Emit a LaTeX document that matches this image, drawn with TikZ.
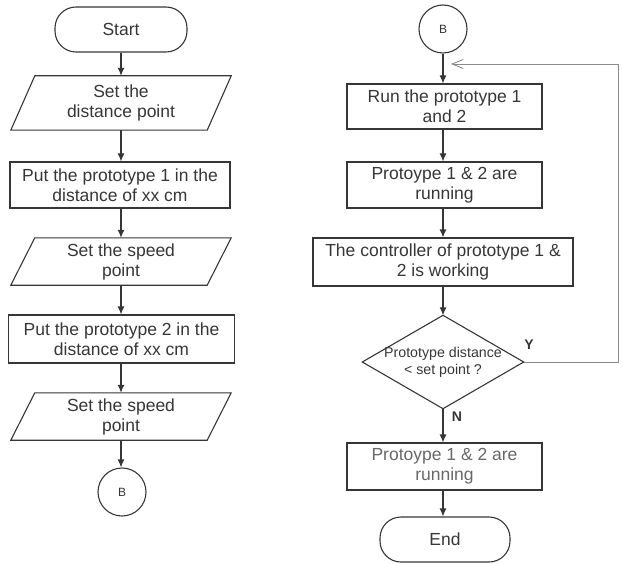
\documentclass[tikz,border=0pt]{standalone}
\usepackage{fontspec}
\setmainfont{Liberation Sans}
\usetikzlibrary{arrows.meta,calc}
\definecolor{ink}{HTML}{363636}
\definecolor{fbgray}{HTML}{8A8A8A}
\begin{document}
\begin{tikzpicture}[x=1pt,y=-1pt,
  base/.style={text=ink,align=center,font=\fontsize{17.5}{20}\selectfont,inner sep=0pt},
  term/.style={base,draw=ink,line width=1.1pt,rounded corners=21pt,minimum width=132pt,minimum height=45pt},
  procbox/.style={base,draw=ink,line width=1.1pt,minimum height=46pt},
  iobox/.style={base,minimum width=196pt},
  conn/.style={base,draw=ink,line width=1.1pt,circle,minimum size=48pt,font=\fontsize{12}{14}\selectfont},
  decbox/.style={base,minimum width=161pt,minimum height=93pt,font=\fontsize{14.2}{17}\selectfont},
  arr/.style={draw=ink,line width=1.1pt,-{Latex[length=8pt,width=7pt]}},
  fb/.style={draw=fbgray,line width=0.9pt,-{Straight Barb[length=11pt,width=9pt]}},
  lbl/.style={text=ink,font=\fontsize{14}{16}\selectfont\bfseries,inner sep=0pt}
]
\useasboundingbox (0,0) rectangle (623,564);
% left column
\node[term] (start) at (121,29.5) {Start};
\node[iobox,minimum height=54pt] (p1) at (121,103) {Set the\\distance point};
\node[procbox,minimum width=220pt] (b1) at (120,185) {Put the prototype 1 in the\\distance of xx cm};
\node[iobox,minimum height=47pt] (p2) at (121,261.5) {Set the speed\\point};
\node[procbox,minimum width=226pt,minimum height=48pt] (b2) at (121.5,339) {Put the prototype 2 in the\\distance of xx cm};
\node[iobox,minimum height=47pt] (p3) at (121,416.5) {Set the speed\\point};
\node[conn] (bl) at (122,492) {B};
\foreach \p in {p1,p2,p3}{
  \draw[ink,line width=1.1pt] ([xshift=12pt]\p.north west) -- ([xshift=12pt]\p.north east)
    -- ([xshift=-12pt]\p.south east) -- ([xshift=-12pt]\p.south west) -- cycle;
}
\draw[arr] (start.south) -- (p1.north);
\draw[arr] (p1.south) -- (b1.north -| p1.south);
\draw[arr] (b1.south -| p1.south) -- (p2.north);
\draw[arr] (p2.south) -- (b2.north -| p2.south);
\draw[arr] (b2.south -| p2.south) -- (p3.north);
\draw[arr] (p3.south) -- (bl.north -| p3.south);
% right column
\node[conn] (br) at (443,29) {B};
\node[procbox,minimum width=195pt,minimum height=45pt] (run) at (444.5,106.5) {Run the prototype 1\\and 2};
\node[procbox,minimum width=195pt] (r1) at (444.5,185) {Protoype 1 \& 2 are\\running};
\node[procbox,minimum width=260pt,minimum height=48pt] (ctl) at (443,262) {The controller of prototype 1 \&\\2 is working};
\node[decbox] (dec) at (443,362) {Prototype distance\\\textless{} set point ?};
\draw[ink,line width=1.1pt] (dec.north) -- (dec.east) -- (dec.south) -- (dec.west) -- cycle;
\node[procbox,minimum width=195pt,minimum height=47pt,text=ink!75] (r2) at (444.5,466.5) {Protoype 1 \& 2 are\\running};
\node[term,minimum width=130pt] (endn) at (445,539.5) {End};
\node[lbl] (ylab) at (529,345) {Y};
\node[lbl] (nlab) at (457,417) {N};
\draw[arr] (br.south) -- (run.north -| br.south);
\draw[arr] (run.south -| br.south) -- (r1.north -| br.south);
\draw[arr] (r1.south -| br.south) -- (ctl.north -| br.south);
\draw[arr] (ctl.south -| br.south) -- (dec.north);
\draw[arr] (dec.south) -- (r2.north -| dec.south);
\draw[arr] (r2.south -| dec.south) -- (endn.north -| dec.south);
\coordinate (fb1) at (618,362);
\coordinate (fb2) at (618,64);
\coordinate (fbend) at (451,64);
\draw[fb] (dec.east) -- (fb1) -- (fb2) -- (fbend);
\end{tikzpicture}
\end{document}
